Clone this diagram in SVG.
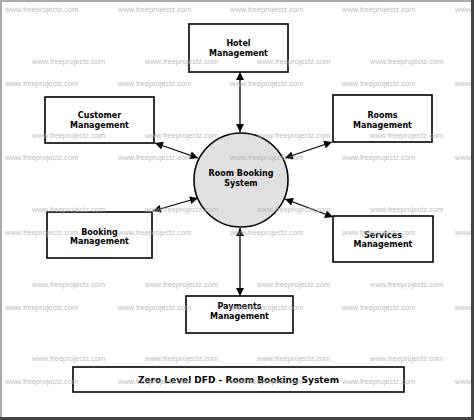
<svg xmlns="http://www.w3.org/2000/svg" width="474" height="420" viewBox="0 0 474 420">
<style>
.wm{font-family:"Liberation Sans",Arial,sans-serif;font-size:7.5px;fill:#b4b4b4;opacity:0.85}
.box{fill:#fff;stroke:#000;stroke-width:1.6}
.lbl{font-family:"DejaVu Sans",sans-serif;font-size:8px;font-weight:bold;fill:#000;text-anchor:middle}
.con{stroke:#000;stroke-width:1.3;fill:none;marker-start:url(#ah);marker-end:url(#ah)}
</style>
<defs>
<marker id="ah" viewBox="0 0 10 10" refX="10" refY="5" markerWidth="9" markerHeight="8" markerUnits="userSpaceOnUse" orient="auto-start-reverse">
<path d="M0,0 L10,5 L0,10 Z" fill="#000"/>
</marker>
</defs>
<rect x="0" y="0" width="474" height="420" fill="#fff"/>
<g id="connectors">
<line class="con" x1="240" y1="72" x2="240" y2="132"/>
<line class="con" x1="155" y1="143" x2="198" y2="158"/>
<line class="con" x1="332" y1="142" x2="285" y2="158"/>
<line class="con" x1="153" y1="211" x2="198" y2="198"/>
<line class="con" x1="333" y1="217" x2="285" y2="199"/>
<line class="con" x1="240" y1="296" x2="240" y2="228"/>
</g>
<g id="hotel"><rect class="box" x="189" y="24" width="99" height="48"/><text class="lbl" x="238.5" y="46">Hotel</text><text class="lbl" x="238.5" y="56">Management</text></g>
<g id="customer"><rect class="box" x="45" y="97" width="109" height="46"/><text class="lbl" x="99.5" y="118">Customer</text><text class="lbl" x="99.5" y="128">Management</text></g>
<g id="rooms"><rect class="box" x="333" y="95" width="99" height="47"/><text class="lbl" x="382.5" y="118">Rooms</text><text class="lbl" x="382.5" y="128">Management</text></g>
<g id="system"><circle cx="241" cy="180" r="47" fill="#e0e0e0" stroke="#000" stroke-width="1.6"/><text class="lbl" x="241" y="176">Room Booking</text><text class="lbl" x="241" y="186">System</text></g>
<g id="booking"><rect class="box" x="47" y="212" width="105" height="46"/><text class="lbl" x="99.5" y="235">Booking</text><text class="lbl" x="99.5" y="244">Management</text></g>
<g id="services"><rect class="box" x="333" y="216" width="100" height="46"/><text class="lbl" x="383" y="238">Services</text><text class="lbl" x="383" y="247">Management</text></g>
<g id="payments"><rect class="box" x="186" y="296" width="107" height="37"/><text class="lbl" x="239.5" y="309">Payments</text><text class="lbl" x="239.5" y="319">Management</text></g>
<g id="title"><rect class="box" x="73" y="367" width="331" height="25"/><text class="lbl" x="238.5" y="383" style="font-size:9px">Zero Level DFD - Room Booking System</text></g>
<g id="watermark">
<text class="wm" x="5" y="11.5">www.freeprojectz.com</text><text class="wm" x="118" y="11.5">www.freeprojectz.com</text><text class="wm" x="230" y="11.5">www.freeprojectz.com</text><text class="wm" x="342" y="11.5">www.freeprojectz.com</text><text class="wm" x="455" y="11.5">www.freeprojectz.com</text>
<text class="wm" x="32" y="63.5">www.freeprojectz.com</text><text class="wm" x="145" y="63.5">www.freeprojectz.com</text><text class="wm" x="257" y="63.5">www.freeprojectz.com</text><text class="wm" x="370" y="63.5">www.freeprojectz.com</text>
<text class="wm" x="5" y="85.5">www.freeprojectz.com</text><text class="wm" x="118" y="85.5">www.freeprojectz.com</text><text class="wm" x="230" y="85.5">www.freeprojectz.com</text><text class="wm" x="342" y="85.5">www.freeprojectz.com</text><text class="wm" x="455" y="85.5">www.freeprojectz.com</text>
<text class="wm" x="32" y="137.5">www.freeprojectz.com</text><text class="wm" x="145" y="137.5">www.freeprojectz.com</text><text class="wm" x="257" y="137.5">www.freeprojectz.com</text><text class="wm" x="370" y="137.5">www.freeprojectz.com</text>
<text class="wm" x="5" y="159.5">www.freeprojectz.com</text><text class="wm" x="118" y="159.5">www.freeprojectz.com</text><text class="wm" x="230" y="159.5">www.freeprojectz.com</text><text class="wm" x="342" y="159.5">www.freeprojectz.com</text><text class="wm" x="455" y="159.5">www.freeprojectz.com</text>
<text class="wm" x="32" y="211.5">www.freeprojectz.com</text><text class="wm" x="145" y="211.5">www.freeprojectz.com</text><text class="wm" x="257" y="211.5">www.freeprojectz.com</text><text class="wm" x="370" y="211.5">www.freeprojectz.com</text>
<text class="wm" x="5" y="234.5">www.freeprojectz.com</text><text class="wm" x="118" y="234.5">www.freeprojectz.com</text><text class="wm" x="230" y="234.5">www.freeprojectz.com</text><text class="wm" x="342" y="234.5">www.freeprojectz.com</text><text class="wm" x="455" y="234.5">www.freeprojectz.com</text>
<text class="wm" x="32" y="286.5">www.freeprojectz.com</text><text class="wm" x="145" y="286.5">www.freeprojectz.com</text><text class="wm" x="257" y="286.5">www.freeprojectz.com</text><text class="wm" x="370" y="286.5">www.freeprojectz.com</text>
<text class="wm" x="5" y="309.5">www.freeprojectz.com</text><text class="wm" x="118" y="309.5">www.freeprojectz.com</text><text class="wm" x="230" y="309.5">www.freeprojectz.com</text><text class="wm" x="342" y="309.5">www.freeprojectz.com</text><text class="wm" x="455" y="309.5">www.freeprojectz.com</text>
<text class="wm" x="32" y="360.5">www.freeprojectz.com</text><text class="wm" x="145" y="360.5">www.freeprojectz.com</text><text class="wm" x="257" y="360.5">www.freeprojectz.com</text><text class="wm" x="370" y="360.5">www.freeprojectz.com</text>
<text class="wm" x="5" y="383.5">www.freeprojectz.com</text><text class="wm" x="118" y="383.5">www.freeprojectz.com</text><text class="wm" x="230" y="383.5">www.freeprojectz.com</text><text class="wm" x="342" y="383.5">www.freeprojectz.com</text><text class="wm" x="455" y="383.5">www.freeprojectz.com</text>
</g>
<g id="frame">
<rect x="0" y="0" width="474" height="2" fill="#aaa"/>
<rect x="0" y="0" width="2" height="420" fill="#aaa"/>
<rect x="471" y="0" width="3" height="420" fill="#444"/>
<rect x="0" y="417" width="474" height="3" fill="#444"/>
</g>
</svg>
